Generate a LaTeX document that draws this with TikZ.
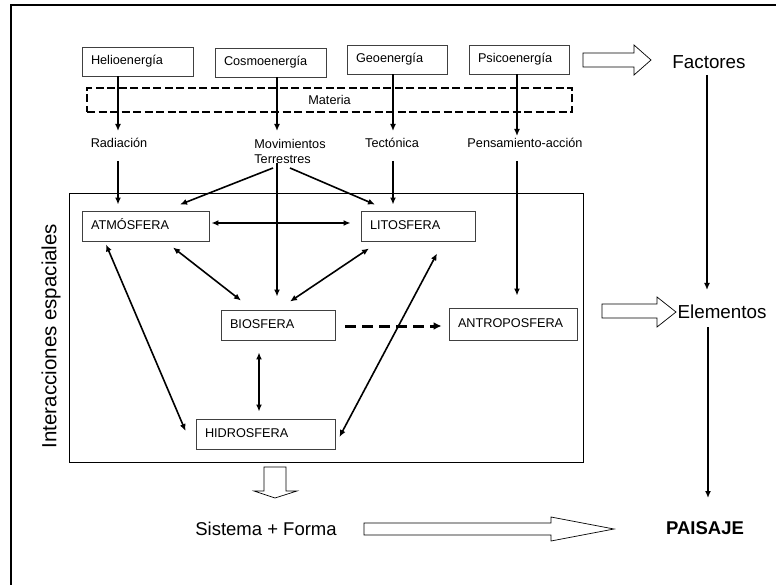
\documentclass[tikz,border=0pt]{standalone}
\usepackage{fontspec}
\setmainfont{Liberation Sans}
\usetikzlibrary{arrows.meta}
\begin{document}
\begin{tikzpicture}[x=1pt,y=-1pt,
  every node/.style={font=\fontsize{12.7}{15}\selectfont},
  ebox/.style n args={3}{draw=black!75, line width=0.9pt, minimum width=#1pt, minimum height=#2pt, text width=#3pt, inner xsep=9pt, inner ysep=0pt, align=left, text height=9.2pt, text depth=2.6pt},
  lbl/.style={inner sep=0pt, text height=9.2pt, text depth=2.6pt},
  bigtext/.style={font=\fontsize{18.8}{22}\selectfont, inner sep=0pt},
  arr/.style={line width=1.6pt, -{Latex[length=7pt,width=6pt]}},
  dbl/.style={line width=1.6pt, {Latex[length=7pt,width=6pt]}-{Latex[length=7pt,width=6pt]}},
  plain/.style={line width=1.6pt},
  hol/.style={draw=black, line width=0.7pt, fill=white},
]
\useasboundingbox (0,0) rectangle (776,585);
% outer frame (only left and top edges visible)
\draw[line width=1.5pt] (11,585) -- (11,5) -- (776,5);

% Materia dashed band
\node[draw=black, line width=1.5pt, dash pattern=on 8pt off 3.5pt, minimum width=485pt, minimum height=24pt, inner sep=0pt] (materia) at (329.5,100) {Materia};

% top boxes
\node[ebox={111}{29}{93}] (helio) at (137.5,61.5) {Helioenergía};
\node[ebox={111}{29}{93}] (cosmo) at (270.5,62.5) {Cosmoenergía};
\node[ebox={100}{29}{82}] (geo) at (397,59.5) {Geoenergía};
\node[ebox={100}{29}{82}] (psico) at (519,59.5) {Psicoenergía};

% labels
\node[lbl] (rad) at (119,144) {Radiación};
\node[inner sep=0pt, align=left] (mov) at (290,151.5) {Movimientos\\Terrestres};
\node[lbl] (tec) at (392,144) {Tectónica};
\node[lbl] (pen) at (525,144) {Pensamiento-acción};

% inner system rectangle
\node[draw=black, line width=0.9pt, minimum width=514pt, minimum height=269pt, inner sep=0pt] (sys) at (326,327.5) {};
\node[rotate=90, font=\fontsize{20.5}{24}\selectfont, inner sep=0pt] (inter) at (51,336) {Interacciones espaciales};

% spheres
\node[ebox={127}{30}{109}] (atm) at (145.5,226) {ATMÓSFERA};
\node[ebox={114}{30}{96}] (lito) at (418,226) {LITOSFERA};
\node[ebox={114}{30}{96}] (bio) at (278,325) {BIOSFERA};
\node[ebox={139}{30}{121}] (hidro) at (265.5,434) {HIDROSFERA};
\node[ebox={128}{32}{110}] (antro) at (513,324) {ANTROPOSFERA};

% right column
\node[bigtext] (fac) at (709,62) {Factores};
\node[bigtext] (ele) at (722,312) {Elementos};
\node[bigtext, font=\fontsize{18.5}{22}\selectfont\bfseries] (pai) at (705,528) {PAISAJE};
\node[bigtext, font=\fontsize{18.5}{22}\selectfont] (sis) at (266,529) {Sistema + Forma};

% energy arrows
\draw[arr] ([shift={(-19.5,0)}]helio.south) -- ([shift={(-1,-13)}]rad.center);
\draw[arr] ([shift={(6.5,0)}]cosmo.south) -- ([shift={(-13,-20.5)}]mov.center);
\draw[arr] ([shift={(-4,0)}]geo.south) -- ([shift={(1,-13)}]tec.center);
\draw[arr] ([shift={(-2,0)}]psico.south) -- ([shift={(-8,-8)}]pen.center);

% from labels to spheres
\draw[arr] ([shift={(-1,17)}]rad.center) -- ([shift={(-27.5,-6)}]atm.north);
\draw[arr] ([shift={(-17,16.5)}]mov.center) -- ([shift={(34.5,-6)}]atm.north);
\draw[arr] ([shift={(-13,11.5)}]mov.center) -- ([shift={(-1,-13)}]bio.north);
\draw[arr] ([shift={(0,16.5)}]mov.center) -- ([shift={(-43,-6)}]lito.north);
\draw[arr] ([shift={(1,17)}]tec.center) -- ([shift={(-25,-6)}]lito.north);
\draw[arr] ([shift={(-8,17)}]pen.center) -- ([shift={(4,-12)}]antro.north);

% interactions
\draw[dbl] ([shift={(2,-3)}]atm.east) -- ([shift={(-10,-3)}]lito.west);
\draw[dbl] ([shift={(27.5,6)}]atm.south) -- ([shift={(-37,-9)}]bio.north);
\draw[dbl] ([shift={(-49,7)}]lito.south) -- ([shift={(12,-8)}]bio.north);
\draw[dbl] ([shift={(-39.5,3)}]atm.south) -- ([shift={(-10,-3)}]hidro.west);
\draw[dbl] ([shift={(19,12)}]lito.south) -- ([shift={(4,3)}]hidro.east);
\draw[dbl] ([shift={(-19,12)}]bio.south) -- ([shift={(-6.5,-7)}]hidro.north);
\draw[line width=3pt, dash pattern=on 11pt off 6pt, -{Latex[length=8pt,width=8pt]}] ([shift={(10,1)}]bio.east) -- ([shift={(-7,2)}]antro.west);

% right column arrows
\draw[arr] ([shift={(-2,13)}]fac.center) -- ([shift={(-15,-22)}]ele.center);
\draw[arr] ([shift={(-14,15)}]ele.center) -- ([shift={(3,-30)}]pai.center);

% hollow block arrows
\draw[hol] (583,53) -- (634,53) -- (634,45) -- (651,60) -- (634,75) -- (634,67) -- (583,67) -- cycle;
\draw[hol] (602,304) -- (657,304) -- (657,297) -- (676,312) -- (657,327) -- (657,318) -- (602,318) -- cycle;
\draw[hol] (264,467) -- (286,467) -- (286,491) -- (297,491) -- (275,498) -- (254,491) -- (264,491) -- cycle;
\draw[hol] (364,523) -- (551,523) -- (551,517) -- (614,529) -- (551,541) -- (551,535) -- (364,535) -- cycle;
\end{tikzpicture}
\end{document}
